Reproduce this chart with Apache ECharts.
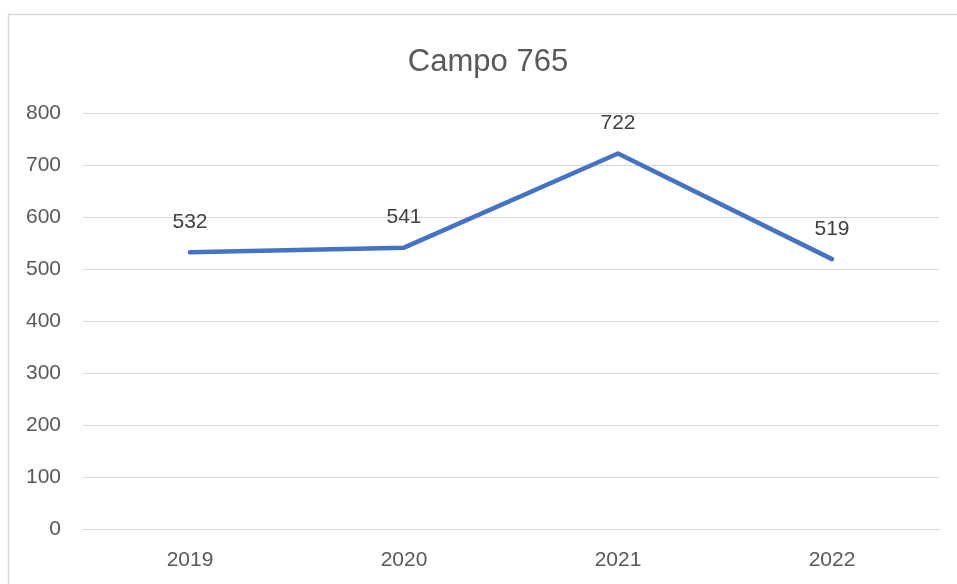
<!DOCTYPE html>
<html>
<head>
<meta charset="utf-8">
<script src="https://cdn.jsdelivr.net/npm/echarts@6/dist/echarts.min.js"></script>
<style>
html,body{margin:0;padding:0;background:#fff;}
#chart{width:957px;height:584px;}
</style>
</head>
<body>
<div id="chart"></div>
<script>
// Yearly totals for Campo 765
const years = ['2019', '2020', '2021', '2022'];
const values = [532, 541, 722, 519];
const yTicks = [0, 100, 200, 300, 400, 500, 600, 700, 800];

const chart = echarts.init(document.getElementById('chart'));
const fontFamily = '"Liberation Sans", "Open Sans", sans-serif';

chart.setOption({
  backgroundColor: '#ffffff',
  animation: false,
  graphic: [{
    type: 'rect',
    shape: { x: 8.5, y: 14.5, width: 1000, height: 700 },
    style: { fill: 'none', stroke: '#d9d9d9', lineWidth: 1.5 },
    silent: true
  }],
  title: {
    text: 'Campo 765',
    left: 483,
    top: 42,
    textAlign: 'center',
    textStyle: { color: '#595959', fontSize: 31, fontWeight: 'normal', fontFamily: fontFamily }
  },
  grid: { left: 83, right: 18, top: 113, bottom: 55 },
  xAxis: {
    type: 'category',
    data: years,
    boundaryGap: true,
    axisLine: { lineStyle: { color: '#d9d9d9', width: 1 } },
    axisTick: { show: false },
    axisLabel: { color: '#595959', fontSize: 21, fontFamily: fontFamily, margin: 21 }
  },
  yAxis: {
    type: 'value',
    min: yTicks[0],
    max: yTicks[yTicks.length - 1],
    interval: 100,
    axisLine: { show: false },
    axisTick: { show: false },
    splitLine: { lineStyle: { color: '#d9d9d9', width: 1 } },
    axisLabel: { color: '#595959', fontSize: 21, fontFamily: fontFamily, margin: 22 }
  },
  series: [{
    type: 'line',
    data: values,
    symbol: 'circle',
    symbolSize: 1,
    showSymbol: true,
    itemStyle: { color: 'rgba(0,0,0,0)' },
    lineStyle: { color: '#4472c4', width: 4.5, cap: 'round', join: 'round' },
    label: {
      show: true,
      position: 'top',
      distance: 19,
      color: '#404040',
      fontSize: 21,
      fontFamily: fontFamily
    }
  }]
});
</script>
</body>
</html>
